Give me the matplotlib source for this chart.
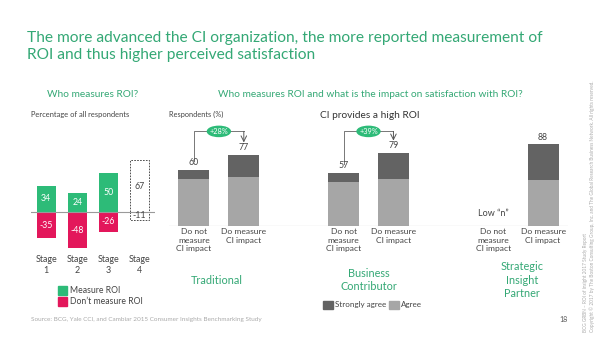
import matplotlib
matplotlib.use("Agg")
import matplotlib.pyplot as plt
from matplotlib.patches import Ellipse, Rectangle

plt.rcParams['font.family'] = ['Lato', 'DejaVu Sans']

GREEN = '#2dbb78'
TITLE_GREEN = '#34a875'
RED = '#e3175b'
DARK = '#636363'
LIGHT = '#a6a6a6'
TXT = '#444444'

# Who measures ROI (percentage of all respondents)
stages = ['Stage\n1', 'Stage\n2', 'Stage\n3', 'Stage\n4']
measure_roi = [34, 24, 50, 67]
dont_measure_roi = [-35, -48, -26, -11]

# Satisfaction with ROI by CI organisation type
categories = ['Do not\nmeasure\nCI impact', 'Do measure\nCI impact',
              'Do not\nmeasure\nCI impact', 'Do measure\nCI impact',
              'Do not\nmeasure\nCI impact', 'Do measure\nCI impact']
cat_pos = [0, 1, 3, 4, 6, 7]
agree = [50, 53, 47, 51, None, 49]
strongly_agree = [10, 24, 10, 28, None, 39]
totals = [60, 77, 57, 79, None, 88]
uplifts = ['+28%', '+39%']
groups = ['Traditional', 'Business\nContributor', 'Strategic\nInsight\nPartner']

W, H = 600, 337
fig = plt.figure(figsize=(W / 100, H / 100), dpi=100)


def px(x, y):
    return x / W, 1 - y / H


def pax(x0, y0, x1, y1):
    return [x0 / W, 1 - y1 / H, (x1 - x0) / W, (y1 - y0) / H]


fig.text(*px(27, 38), 'The more advanced the CI organization, the more reported measurement of',
         color=TITLE_GREEN, fontsize=11.2, va='center')
fig.text(*px(27, 55), 'ROI and thus higher perceived satisfaction',
         color=TITLE_GREEN, fontsize=11.2, va='center')

fig.text(*px(93, 94), 'Who measures ROI?', color=TITLE_GREEN, fontsize=7.3, ha='center', va='center')
fig.text(*px(218, 94), 'Who measures ROI and what is the impact on satisfaction with ROI?',
         color=TITLE_GREEN, fontsize=7.3, va='center')
fig.text(*px(31, 114), 'Percentage of all respondents', color=TXT, fontsize=5.4, va='center')
fig.text(*px(169, 114), 'Respondents (%)', color=TXT, fontsize=5.3, va='center')
fig.text(*px(320, 115), 'CI provides a high ROI', color='#333333', fontsize=7.3, va='center')

# left panel
ax1 = fig.add_axes(pax(30.7, 150.5, 154.7, 257.6))
ax1.set_xlim(-0.5, 3.5)
ax1.set_ylim(-60, 80)
ax1.axis('off')
ax1.axhline(0, color='#9a9a9a', lw=0.8)
for i in range(3):
    ax1.bar(i, measure_roi[i], width=0.61, color=GREEN)
    ax1.bar(i, dont_measure_roi[i], width=0.61, color=RED)
    ax1.text(i, measure_roi[i] / 2, str(measure_roi[i]), color='white', fontsize=6.3,
             ha='center', va='center')
    ax1.text(i, dont_measure_roi[i] / 2, str(dont_measure_roi[i]), color='white', fontsize=6.3,
             ha='center', va='center')
ax1.bar(3, measure_roi[3], width=0.61, color='white', edgecolor='#333333', lw=0.6, ls=(0, (2, 1.5)))
ax1.bar(3, dont_measure_roi[3], width=0.61, color='white', edgecolor='#333333', lw=0.6, ls=(0, (2, 1.5)))
ax1.text(3, measure_roi[3] / 2, str(measure_roi[3]), color=TXT, fontsize=6.3, ha='center', va='center')
ax1.text(3, dont_measure_roi[3] / 2, str(dont_measure_roi[3]), color=TXT, fontsize=6.3,
         ha='center', va='center')
for i, s in enumerate(stages):
    ax1.text(i, -57, s, color=TXT, fontsize=6.4, ha='center', va='top', linespacing=1.2)

# left legend
fig.patches.append(Rectangle(px(58, 295), 9 / W, 9 / H, transform=fig.transFigure, color=GREEN))
fig.patches.append(Rectangle(px(58, 306), 9 / W, 9 / H, transform=fig.transFigure, color=RED))
fig.text(*px(70, 290.5), 'Measure ROI', color=TXT, fontsize=6.2, va='center')
fig.text(*px(70, 301.5), 'Don\u2019t measure ROI', color=TXT, fontsize=6.2, va='center')

# right panel
ax2 = fig.add_axes(pax(169, 124, 568, 225.7))
ax2.set_xlim(-0.5, 7.5)
ax2.set_ylim(0, 110)
ax2.axis('off')
ax2.axhline(0, color='#9a9a9a', lw=0.8)
for x, a, s, t in zip(cat_pos, agree, strongly_agree, totals):
    if t is None:
        continue
    ax2.bar(x, a, width=0.62, color=LIGHT)
    ax2.bar(x, s, bottom=a, width=0.62, color=DARK)
    ax2.text(x, t + 3, str(t), color=TXT, fontsize=6.3, ha='center', va='bottom')
ax2.text(6, 13, 'Low \u201cn\u201d', color=TXT, fontsize=6.5, ha='center', va='center')
for x, c in zip(cat_pos, categories):
    ax2.text(x, -3, c, color=TXT, fontsize=6.1, ha='center', va='top', linespacing=1.25)

# uplift brackets
for x0, lab in zip([0, 3], uplifts):
    i0 = cat_pos.index(x0)
    t0, t1 = totals[i0], totals[i0 + 1]
    top = 102
    ax2.plot([x0, x0, x0 + 1], [t0 + 10, top, top], color='#777777', lw=0.7, clip_on=False)
    ax2.annotate('', xy=(x0 + 1, t1 + 13), xytext=(x0 + 1, top),
                 arrowprops=dict(arrowstyle='->', color='#555555', lw=0.7, shrinkA=0, shrinkB=0),
                 annotation_clip=False)
    ax2.add_patch(Ellipse((x0 + 0.5, top), 0.46, 11, color=GREEN, clip_on=False, zorder=3))
    ax2.text(x0 + 0.5, top, lab, color='white', fontsize=5.3, ha='center', va='center', zorder=4)

fig.text(*px(217, 280), groups[0], color=TITLE_GREEN, fontsize=7.8, ha='center', va='center')
fig.text(*px(369, 280), groups[1], color=TITLE_GREEN, fontsize=7.8, ha='center', va='center',
         linespacing=1.3)
fig.text(*px(522, 280), groups[2], color=TITLE_GREEN, fontsize=7.8, ha='center', va='center',
         linespacing=1.3)

# right legend
fig.patches.append(Rectangle(px(323, 309), 10 / W, 8 / H, transform=fig.transFigure, color=DARK))
fig.patches.append(Rectangle(px(389, 309), 10 / W, 8 / H, transform=fig.transFigure, color=LIGHT))
fig.text(*px(335, 305), 'Strongly agree', color=TXT, fontsize=5.8, va='center')
fig.text(*px(401, 305), 'Agree', color=TXT, fontsize=5.8, va='center')

fig.text(*px(31, 319), 'Source: BCG, Yale CCI, and Cambiar 2015 Consumer Insights Benchmarking Study',
         color='#aaaaaa', fontsize=4.6, va='center')
fig.text(*px(568, 319), '18', color='#555555', fontsize=5, ha='right', va='center')

fig.text(*px(586, 332), 'BCG GRBN \u2013 ROI of insight 2017 Study Report', color='#aaaaaa',
         fontsize=3.4, rotation=90, ha='center', va='bottom')
fig.text(*px(592, 332), 'Copyright \u00a9 2017 by The Boston Consulting Group, Inc. and The Global '
         'Research Business Network. All rights reserved.', color='#aaaaaa',
         fontsize=3.4, rotation=90, ha='center', va='bottom')

fig.savefig('out.png', dpi=100, facecolor='white')
